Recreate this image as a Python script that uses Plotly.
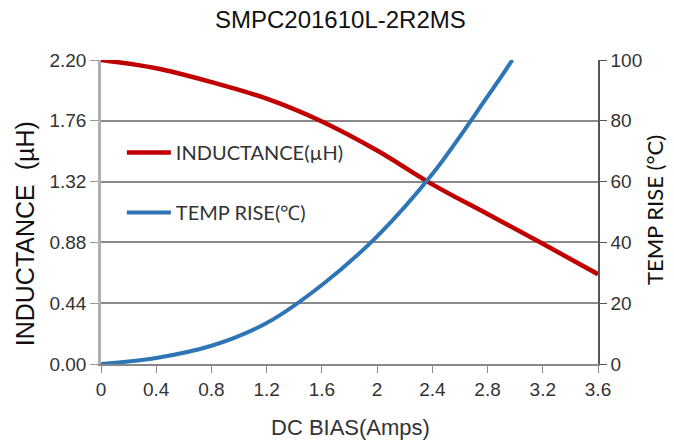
import plotly.graph_objects as go

bias = [0, 0.4, 0.8, 1.2, 1.6, 2.0, 2.4, 2.8, 3.2, 3.6]
inductance = [2.20, 2.14, 2.04, 1.92, 1.755, 1.545, 1.30, 1.085, 0.87, 0.65]

bias_t = [0, 0.4, 0.8, 1.2, 1.6, 2.0, 2.4, 2.8, 2.98]
temp_rise = [0, 2, 6, 13.5, 26, 42, 62.5, 88, 100]

x_ticks = [0, 0.4, 0.8, 1.2, 1.6, 2, 2.4, 2.8, 3.2, 3.6]
x_ticklabels = ["0", "0.4", "0.8", "1.2", "1.6", "2", "2.4", "2.8", "3.2", "3.6"]
y_ticks = [0, 0.44, 0.88, 1.32, 1.76, 2.20]
y_ticklabels = ["0.00", "0.44", "0.88", "1.32", "1.76", "2.20"]
y2_ticks = [0, 20, 40, 60, 80, 100]

font = "Liberation Sans, Arial, sans-serif"
font2 = "Lato, Open Sans, sans-serif"

fig = go.Figure()
fig.add_trace(go.Scatter(
    x=bias, y=inductance, mode="lines", name="INDUCTANCE(µH)",
    line=dict(color="#C00000", width=4.5, shape="spline"),
    legendgroup="a",
))
fig.add_trace(go.Scatter(
    x=bias_t, y=temp_rise, mode="lines", name="TEMP RISE(℃)",
    line=dict(color="#2E75B6", width=4, shape="spline"),
    yaxis="y2", legendgroup="b",
))

fig.update_layout(
    width=674, height=448,
    margin=dict(l=101, r=76, t=60, b=84, autoexpand=False),
    paper_bgcolor="white", plot_bgcolor="white",
    title=dict(text="SMPC201610L-2R2MS", x=0.505, xanchor="center",
               y=1 - 20 / 448, yref="container", yanchor="middle",
               font=dict(family=font, size=24, color="#111")),
    xaxis=dict(
        range=[0, 3.6], tickvals=x_ticks, ticktext=x_ticklabels,
        showgrid=False, zeroline=False,
        showline=True, linecolor="#888", linewidth=1.5,
        ticks="outside", ticklen=7, tickcolor="#888",
        tickfont=dict(family=font, size=19, color="#333"),
        automargin=False,
    ),
    yaxis=dict(
        range=[0, 2.2], tickvals=y_ticks, ticktext=y_ticklabels,
        showgrid=True, gridcolor="#8a8a8a", gridwidth=1.5, zeroline=False,
        showline=True, linecolor="#b0b0b0", linewidth=2.5,
        ticks="outside", ticklen=8, tickcolor="#999",
        tickfont=dict(family=font, size=19, color="#333"),
        automargin=False,
    ),
    yaxis2=dict(
        range=[0, 100], tickvals=y2_ticks, overlaying="y", side="right",
        showgrid=False, zeroline=False,
        showline=True, linecolor="#555", linewidth=1.5,
        ticks="outside", ticklen=7, tickcolor="#555",
        tickfont=dict(family=font, size=19, color="#333"),
        automargin=False,
    ),
    legend=dict(
        x=0.042, y=0.76, xanchor="left", yanchor="top",
        bgcolor="rgba(0,0,0,0)", itemwidth=44,
        traceorder="grouped", tracegroupgap=31,
        font=dict(family=font2, size=20, color="#333"),
    ),
    annotations=[
        dict(text="DC BIAS(Amps)", xref="paper", yref="paper", x=0.503, y=-0.2105,
             xanchor="center", yanchor="middle", showarrow=False,
             font=dict(family=font, size=22, color="#333")),
        dict(text="INDUCTANCE  (µH)", xref="paper", yref="paper", x=-0.153, y=0.43,
             xanchor="center", yanchor="middle", textangle=-90, showarrow=False,
             font=dict(family=font, size=25, color="#111")),
        dict(text="TEMP RISE (°C)", xref="paper", yref="paper", x=1.115, y=0.507,
             xanchor="center", yanchor="middle", textangle=-90, showarrow=False,
             font=dict(family=font2, size=22, color="#111")),
    ],
)

fig.write_html("out.html", config={"displayModeBar": False},
               post_script="document.body.style.margin='0';")
